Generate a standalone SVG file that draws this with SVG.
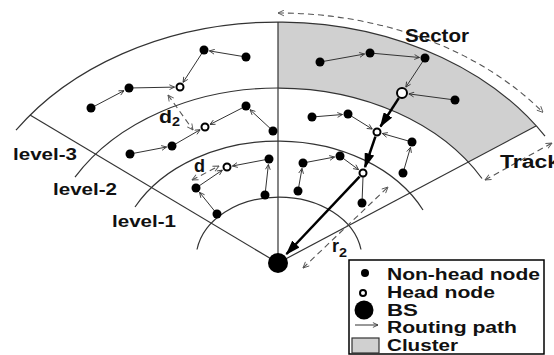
<svg xmlns="http://www.w3.org/2000/svg" width="554" height="355" viewBox="0 0 554 355">
<style>
.txt{font-family:"Liberation Sans",Arial,sans-serif;font-weight:bold;fill:#111}
.arc{fill:none;stroke:#333;stroke-width:1.2}
.edge{fill:none;stroke:#333;stroke-width:1;marker-end:url(#sm)}
.bold{fill:none;stroke:#000;stroke-width:2.5;marker-end:url(#big)}
.dash{fill:none;stroke:#555;stroke-width:1.1;stroke-dasharray:6,4;marker-start:url(#dm);marker-end:url(#dm)}
.n{fill:#000}
.h{fill:#fff;stroke:#000;stroke-width:2}
</style>
<defs>
<marker id="sm" viewBox="0 0 10 10" refX="9.5" refY="5" markerWidth="6" markerHeight="6" markerUnits="userSpaceOnUse" orient="auto">
<path d="M1,1 L9.5,5 L1,9" fill="none" stroke="#333" stroke-width="1.4"/>
</marker>
<marker id="dm" viewBox="0 0 10 10" refX="9.5" refY="5" markerWidth="7" markerHeight="7" markerUnits="userSpaceOnUse" orient="auto-start-reverse">
<path d="M1,1 L9.5,5 L1,9" fill="none" stroke="#555" stroke-width="1.3"/>
</marker>
<marker id="big" viewBox="0 0 12 8" refX="11" refY="4" markerWidth="6" markerHeight="4" markerUnits="strokeWidth" orient="auto">
<path d="M0,0 L12,4 L0,8 z" fill="#000"/>
</marker>
</defs>

<g id="regions">
<path id="cluster-area" d="M278,22 A314,241 0 0,1 536,126 L468,162 A233,175 0 0,0 278,88 Z" fill="#d0d0d0"/>
<path class="arc" d="M16,130.2 A314,241 0 0,1 545,136.2"/>
<path class="arc" d="M75,177.1 A233,175 0 0,1 482,178.5"/>
<path class="arc" d="M135,207 A161,122 0 0,1 423,210"/>
<path class="arc" d="M197,249.5 A83,62 0 0,1 361,249.5"/>
<line class="arc" x1="278" y1="22" x2="278" y2="263"/>
<line class="arc" x1="30" y1="115" x2="278" y2="263"/>
<line class="arc" x1="278" y1="263" x2="536" y2="126"/>
</g>

<g id="connectors">
<line class="edge" x1="246" y1="57" x2="209.4" y2="50.9"/>
<line class="edge" x1="204" y1="50" x2="183" y2="82.4"/>
<line class="edge" x1="129" y1="88" x2="174.5" y2="87.1"/>
<line class="edge" x1="91" y1="108" x2="124.1" y2="90.6"/>
<line class="edge" x1="246" y1="106" x2="209.9" y2="124.5"/>
<line class="edge" x1="273" y1="131" x2="250" y2="109.7"/>
<line class="edge" x1="172" y1="146" x2="200.2" y2="129.7"/>
<line class="edge" x1="130" y1="154" x2="166.6" y2="147"/>
<line class="edge" x1="269" y1="159" x2="232.4" y2="166"/>
<line class="edge" x1="265" y1="195" x2="268.4" y2="164.5"/>
<line class="edge" x1="196" y1="188" x2="222.4" y2="170.1"/>
<line class="edge" x1="217" y1="214" x2="199.5" y2="192.3"/>
<line class="edge" x1="320" y1="62" x2="364.6" y2="54"/>
<line class="edge" x1="370" y1="53" x2="419.5" y2="57.5"/>
<line class="edge" x1="425" y1="58" x2="405.8" y2="87.2"/>
<line class="edge" x1="455" y1="100" x2="408.9" y2="93.9"/>
<line class="edge" x1="312" y1="117" x2="342.5" y2="114.5"/>
<line class="edge" x1="348" y1="114" x2="372.3" y2="129.1"/>
<line class="edge" x1="412" y1="142" x2="382.3" y2="133.5"/>
<line class="edge" x1="303" y1="163" x2="334.6" y2="157"/>
<line class="edge" x1="340" y1="156" x2="358.6" y2="169.7"/>
<line class="edge" x1="403" y1="173" x2="410.5" y2="147.3"/>
<line class="edge" x1="298" y1="191" x2="302" y2="168.4"/>
<line x1="362" y1="203" x2="363" y2="177" stroke="#333" stroke-width="1"/>
<line class="bold" x1="398.8" y1="98.1" x2="380.5" y2="126.5"/>
<line class="bold" x1="375.4" y1="136.7" x2="365" y2="167"/>
<line class="bold" x1="359.6" y1="176.6" x2="286.5" y2="254"/>
<path class="dash" d="M278,13 A332,250 0 0,1 543,112.4"/>
<line class="dash" x1="485" y1="180" x2="552" y2="143"/>
<line class="dash" x1="303" y1="268" x2="388" y2="187"/>
<line class="dash" x1="168" y1="95" x2="193" y2="130"/>
<line class="dash" x1="192" y1="180" x2="219" y2="166"/>
</g>

<g id="nodes">
<circle id="nA" class="n" cx="246" cy="57" r="4.5"/>
<circle id="nB" class="n" cx="204" cy="50" r="4.5"/>
<circle id="nC" class="n" cx="129" cy="88" r="4.5"/>
<circle id="nD" class="n" cx="91" cy="108" r="4.5"/>
<circle id="nE" class="n" cx="246" cy="106" r="4.5"/>
<circle id="nF" class="n" cx="273" cy="131" r="4.5"/>
<circle id="nG" class="n" cx="172" cy="146" r="4.5"/>
<circle id="nI" class="n" cx="130" cy="154" r="4.5"/>
<circle id="nJ" class="n" cx="269" cy="159" r="4.5"/>
<circle id="nK" class="n" cx="265" cy="195" r="4.5"/>
<circle id="nL" class="n" cx="196" cy="188" r="4.5"/>
<circle id="nM" class="n" cx="217" cy="214" r="4.5"/>
<circle id="nN" class="n" cx="320" cy="62" r="4.5"/>
<circle id="nO" class="n" cx="370" cy="53" r="4.5"/>
<circle id="nP" class="n" cx="425" cy="58" r="4.5"/>
<circle id="nQ" class="n" cx="455" cy="100" r="4.5"/>
<circle id="nR" class="n" cx="312" cy="117" r="4.5"/>
<circle id="nS" class="n" cx="348" cy="114" r="4.5"/>
<circle id="nT" class="n" cx="412" cy="142" r="4.5"/>
<circle id="nU" class="n" cx="303" cy="163" r="4.5"/>
<circle id="nV" class="n" cx="340" cy="156" r="4.5"/>
<circle id="nW" class="n" cx="403" cy="173" r="4.5"/>
<circle id="nX" class="n" cx="298" cy="191" r="4.5"/>
<circle id="nY" class="n" cx="362" cy="203" r="4.5"/>
<circle id="h1" class="h" cx="180" cy="87" r="3.5"/>
<circle id="h2" class="h" cx="205" cy="127" r="3.5"/>
<circle id="h3" class="h" cx="227" cy="167" r="3.5"/>
<circle id="h4" class="h" cx="402" cy="93" r="5" stroke-width="2.5"/>
<circle id="h5" class="h" cx="377" cy="132" r="3.5"/>
<circle id="h6" class="h" cx="363" cy="173" r="3.5"/>
<circle id="bs" class="n" cx="278" cy="263" r="10"/>
</g>

<g id="labels">
<text class="txt" x="405" y="42" font-size="18.5" textLength="64" lengthAdjust="spacingAndGlyphs">Sector</text>
<text class="txt" x="500" y="168" font-size="18" textLength="60" lengthAdjust="spacingAndGlyphs">Track</text>
<text class="txt" x="13" y="160" font-size="16.5" textLength="64" lengthAdjust="spacingAndGlyphs">level-3</text>
<text class="txt" x="53" y="195" font-size="16.5" textLength="64" lengthAdjust="spacingAndGlyphs">level-2</text>
<text class="txt" x="112" y="227" font-size="16.5" textLength="64" lengthAdjust="spacingAndGlyphs">level-1</text>
<text class="txt" x="159" y="123" font-size="18" textLength="13" lengthAdjust="spacingAndGlyphs">d</text>
<text class="txt" x="172" y="126" font-size="12.5" textLength="8" lengthAdjust="spacingAndGlyphs">2</text>
<text class="txt" x="194" y="172" font-size="18" textLength="11" lengthAdjust="spacingAndGlyphs">d</text>
<text class="txt" x="332" y="252" font-size="18" textLength="7" lengthAdjust="spacingAndGlyphs">r</text>
<text class="txt" x="339" y="257" font-size="12.5" textLength="8" lengthAdjust="spacingAndGlyphs">2</text>
</g>

<g id="legend">
<rect x="349" y="260" width="195" height="94" fill="#fff" stroke="#000" stroke-width="1.5"/>
<circle cx="365" cy="273" r="4"/>
<circle cx="363" cy="293" r="3" fill="#fff" stroke="#000" stroke-width="2"/>
<circle cx="364" cy="310" r="9.5"/>
<line x1="355" y1="325" x2="378" y2="325" stroke="#333" stroke-width="1" marker-end="url(#sm)"/>
<rect x="352" y="338" width="27" height="15" fill="#d0d0d0" stroke="#333" stroke-width="1.2"/>
<text class="txt" x="387" y="280" font-size="16" textLength="153" lengthAdjust="spacingAndGlyphs">Non-head node</text>
<text class="txt" x="387" y="298" font-size="16" textLength="108" lengthAdjust="spacingAndGlyphs">Head node</text>
<text class="txt" x="387" y="316" font-size="16" textLength="31" lengthAdjust="spacingAndGlyphs">BS</text>
<text class="txt" x="387" y="333" font-size="16" textLength="130" lengthAdjust="spacingAndGlyphs">Routing path</text>
<text class="txt" x="387" y="351" font-size="16" textLength="71" lengthAdjust="spacingAndGlyphs">Cluster</text>
</g>
</svg>
